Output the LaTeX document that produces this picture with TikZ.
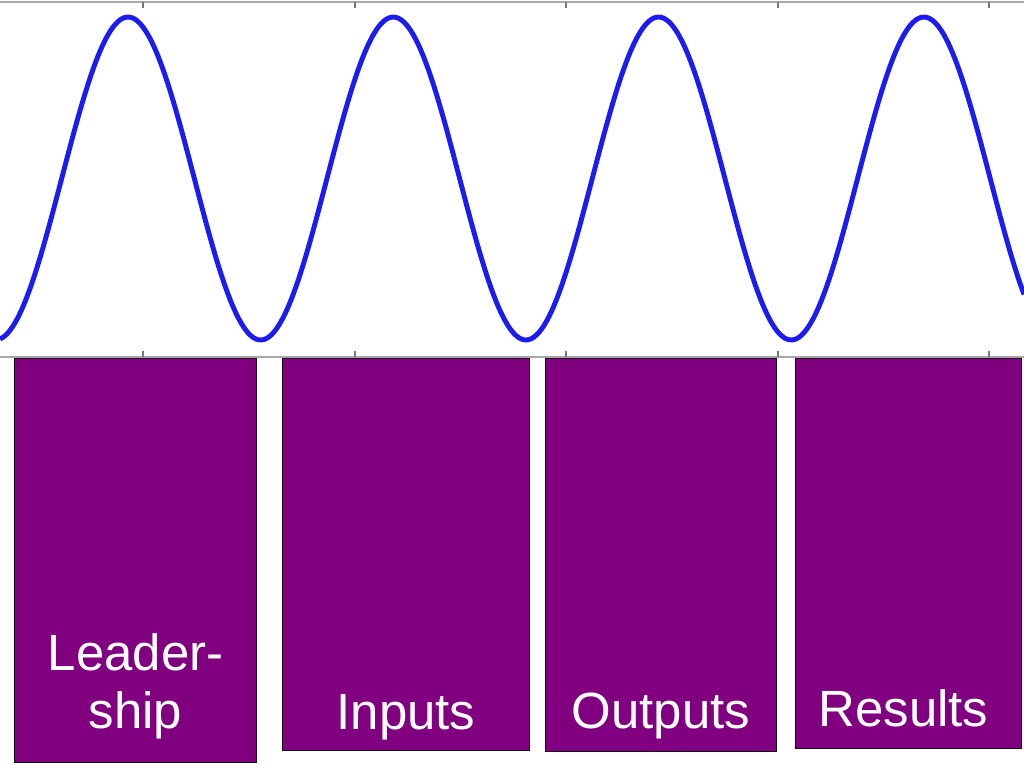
\documentclass[tikz,border=0pt]{standalone}
\usepackage{fontspec}
\setmainfont{Liberation Sans}
\usepackage{xcolor}
\usepackage{tikz}
\usetikzlibrary{positioning, calc}

\definecolor{boxpurple}{HTML}{800080}
\definecolor{waveblue}{HTML}{1C1CF0}
\definecolor{framegray}{HTML}{A8A8A8}

\begin{document}
\begin{tikzpicture}[x=0.02cm, y=-0.02cm,
    stagebox/.style={rectangle, draw=black!80!boxpurple, line width=0.6pt, fill=boxpurple, anchor=north west, inner sep=0pt},
    stagetext/.style={text=white, font=\fontsize{29}{33}\selectfont, align=center, anchor=base, inner sep=0pt}]
    \useasboundingbox (0,0) rectangle (1024,768);

    % Wave
    \begin{scope}
        \clip (0,0) rectangle (1024,357);
        \draw[waveblue, line width=2.8pt, line join=round] plot[domain=0:1024, samples=240, smooth]
            (\x, {178.5-161.5*cos(1.357*(\x-128))});
    \end{scope}

    % Plot frame
    \draw[framegray, line width=1pt] (0,2) -- (1024,2);
    \draw[framegray, line width=1pt] (0,357) -- (1024,357);
    \foreach \t in {143, 355, 566, 778, 989} {
        \draw[framegray!70!black, line width=0.8pt] (\t,2) -- (\t,8);
        \draw[framegray!70!black, line width=0.8pt] (\t,357) -- (\t,351);
    }

    % Stage boxes
    \node[stagebox, minimum width=4.84cm, minimum height=8.08cm] (lead) at (14,358) {};
    \node[stagebox, minimum width=4.94cm, minimum height=7.84cm] (inp) at (282,358) {};
    \node[stagebox, minimum width=4.62cm, minimum height=7.86cm] (outp) at (545,358) {};
    \node[stagebox, minimum width=4.52cm, minimum height=7.80cm] (res) at (795,358) {};

    % Labels
    \node[stagetext] (leadtext) at (lead.north |- 0,728) {Leader-\\ship};
    \node[stagetext] (inptext) at (inp.north |- 0,729) {Inputs};
    \node[stagetext] (outptext) at (outp.north |- 0,728) {Outputs};
    \node[stagetext] (restext) at ($(res.north |- 0,726)+(-5,0)$) {Results};
\end{tikzpicture}
\end{document}
